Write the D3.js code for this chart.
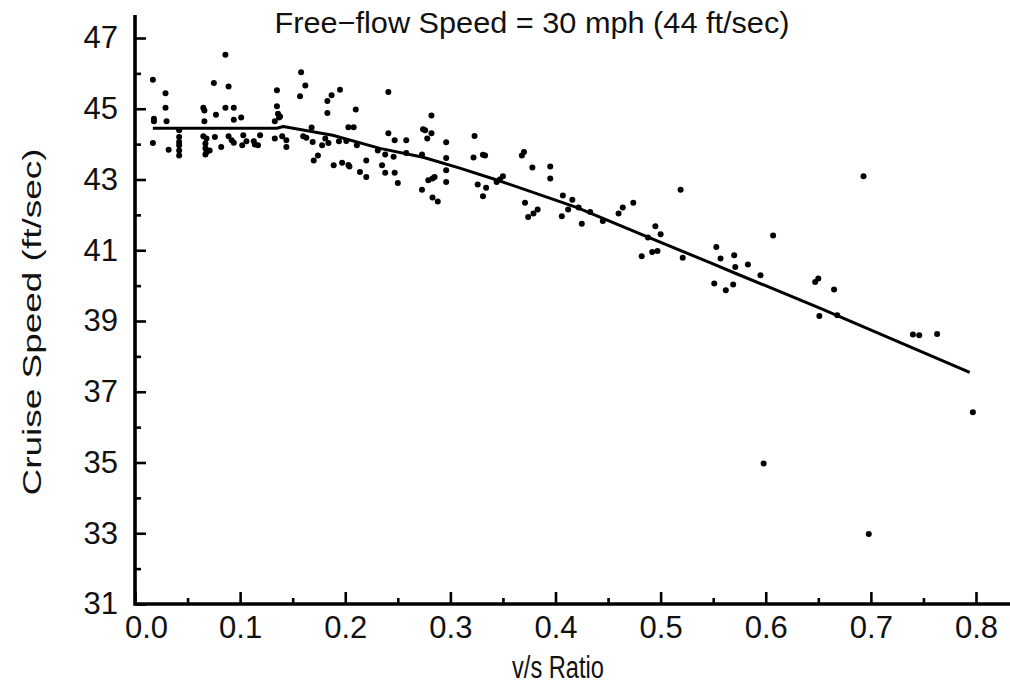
<!DOCTYPE html>
<html>
<head>
<meta charset="utf-8">
<script src="https://cdn.jsdelivr.net/npm/d3@7"></script>
<style>
  html, body { margin: 0; padding: 0; background: #fff; }
  text { font-family: "Liberation Sans", Arial, sans-serif; fill: #111; }
</style>
</head>
<body>
<svg id="chart" width="1010" height="691"></svg>
<script>
// ---- data ----
const title = "Free\u2212flow Speed = 30 mph (44 ft/sec)";
const xLabel = "v/s Ratio";
const yLabel = "Cruise Speed (ft/sec)";
const xTicks = [0, 0.1, 0.2, 0.3, 0.4, 0.5, 0.6, 0.7, 0.8];
const xMinorTicks = [0.05, 0.15, 0.25, 0.35, 0.45, 0.55, 0.65, 0.75];
const yTicks = [31, 33, 35, 37, 39, 41, 43, 45, 47];
const yMinorTicks = [32, 34, 36, 38, 40, 42, 44, 46];

// observed points: v/s ratio
const obsRatio = [
  0.017,0.029,0.029,0.018,0.018,0.030,0.017,0.032,
  0.042,0.042,0.042,0.042,0.042,0.042,
  0.065,0.066,0.066,0.065,0.068,0.067,0.067,0.068,0.067,0.071,
  0.075,0.077,0.076,0.082,0.086,0.089,0.086,0.094,0.094,0.101,0.089,0.092,0.094,0.103,0.102,
  0.158,0.162,0.157,0.135,0.135,0.136,0.138,0.137,0.133,
  0.106,0.113,0.114,0.117,0.119,0.133,0.140,0.144,0.144,0.160,0.163,0.168,0.169,
  0.183,0.187,0.195,0.183,0.181,0.184,0.178,0.194,0.201,0.174,0.170,0.189,0.197,0.203,0.203,
  0.241,0.210,0.208,0.211,0.241,0.247,0.258,0.231,0.238,0.246,0.258,0.204,0.220,0.214,0.220,
  0.235,0.238,0.247,0.250,0.282,0.274,0.276,0.282,0.278,0.296,0.273,0.296,0.296,0.279,0.283,
  0.285,0.296,0.273,0.283,0.288,
  0.323,0.322,0.331,0.333,0.326,0.334,0.331,0.344,0.347,0.350,0.368,0.370,0.378,0.395,0.395,
  0.371,0.374,0.379,0.383,0.407,0.416,0.412,0.406,0.422,
  0.433,0.425,0.445,0.464,0.460,0.474,0.519,0.495,0.500,0.488,0.482,0.492,0.497,0.521,
  0.553,0.557,0.570,0.571,0.583,0.595,0.551,0.562,0.569,0.607,0.693,
  0.647,0.650,0.665,0.651,0.668,0.740,0.746,0.763,0.797,0.598,0.698
];
// observed points: cruise speed (ft/sec)
const obsSpeed = [
  45.82,45.44,45.03,44.72,44.65,44.65,44.03,43.84,
  44.39,44.20,44.06,43.97,43.82,43.68,
  44.22,44.95,44.65,45.03,44.16,44.02,43.88,43.78,43.71,43.82,
  45.73,44.83,44.20,43.92,46.53,45.63,45.03,45.03,44.69,44.75,44.22,44.11,44.04,44.25,43.97,
  46.03,45.66,45.35,45.52,45.07,44.86,44.78,44.75,44.65,
  44.08,44.08,43.99,43.97,44.25,44.16,44.22,44.11,43.92,44.22,44.18,44.47,44.06,
  45.22,45.38,45.54,44.88,44.16,44.03,43.97,44.08,44.09,43.68,43.54,43.40,43.47,43.41,44.48,
  45.47,44.98,44.48,43.97,44.31,44.11,44.11,43.82,43.71,43.64,43.75,43.37,43.54,43.21,43.07,
  43.40,43.19,43.19,42.90,44.81,44.42,44.39,44.31,44.16,44.05,43.71,43.61,43.26,42.98,43.03,
  43.07,42.93,42.71,42.49,42.38,
  44.23,43.62,43.70,43.68,42.86,42.77,42.53,42.93,43.00,43.09,43.68,43.78,43.34,43.37,43.03,
  42.34,41.94,42.04,42.15,42.55,42.43,42.15,41.96,42.21,
  42.08,41.75,41.83,42.21,42.04,42.34,42.71,41.68,41.45,41.36,40.83,40.95,40.98,40.79,
  41.09,40.77,40.86,40.53,40.60,40.29,40.06,39.87,40.03,41.42,43.09,
  40.10,40.20,39.89,39.14,39.16,38.62,38.60,38.63,36.42,34.97,32.98
];

// fitted curve
const fitRatio = [0.017, 0.135, 0.141, 0.188, 0.233, 0.274, 0.309, 0.345, 0.420, 0.488, 0.547, 0.571, 0.652, 0.794];
const fitSpeed = [44.45, 44.45, 44.50, 44.25, 43.88, 43.63, 43.32, 42.98, 42.21, 41.37, 40.65, 40.35, 39.36, 37.55];

// ---- chart ----
const svg = d3.select("#chart");
const x = d3.scaleLinear().domain([0, 0.8]).range([135, 976]);
const y = d3.scaleLinear().domain([31, 47]).range([604, 38]);
const x0 = x(0), y0 = y(31);
const FONT = "'Liberation Sans', Arial, sans-serif";

// y axis
svg.append("g").attr("transform", `translate(${x0},0)`)
  .call(d3.axisLeft(y).tickValues(yTicks).tickSizeInner(-11).tickSizeOuter(0).tickPadding(17).tickFormat(d3.format("d")));
svg.append("g").attr("transform", `translate(${x0},0)`)
  .call(d3.axisLeft(y).tickValues(yMinorTicks).tickSizeInner(-6).tickSizeOuter(0).tickFormat(""));

// x axis
const xAxis = svg.append("g").attr("transform", `translate(0,${y0})`)
  .call(d3.axisBottom(x).tickValues(xTicks).tickSizeInner(-12).tickSizeOuter(0).tickPadding(12).tickFormat(d3.format(".1f")));
svg.append("g").attr("transform", `translate(0,${y0})`)
  .call(d3.axisBottom(x).tickValues(xMinorTicks).tickSizeInner(-6).tickSizeOuter(0).tickFormat(""));

svg.selectAll(".domain").remove();
svg.selectAll(".tick line").attr("stroke", "#000").attr("stroke-width", 2.6);
svg.selectAll(".tick text").attr("font-size", 31).attr("fill", "#111").style("font-family", FONT);
xAxis.selectAll(".tick text").filter(d => d === 0).attr("dx", 11);

// fitted line
svg.append("path")
  .datum(fitRatio.map((r, i) => [r, fitSpeed[i]]))
  .attr("fill", "none").attr("stroke", "#000").attr("stroke-width", 3)
  .attr("stroke-linejoin", "round")
  .attr("d", d3.line().x(d => x(d[0])).y(d => y(d[1])));

// points
svg.append("g").selectAll("circle")
  .data(obsRatio.map((r, i) => [r, obsSpeed[i]]))
  .join("circle")
  .attr("cx", d => x(d[0])).attr("cy", d => y(d[1])).attr("r", 3)
  .attr("fill", "#000");

// axis lines (drawn last)
svg.append("path").attr("d", `M${x0},15V${y0}H1010`)
  .attr("fill", "none").attr("stroke", "#000").attr("stroke-width", 3.6);

// titles
svg.append("text").attr("x", 532).attr("y", 33).attr("text-anchor", "middle")
  .attr("font-size", 30).attr("textLength", 515).attr("lengthAdjust", "spacingAndGlyphs").text(title);
svg.append("text").attr("x", 558).attr("y", 678).attr("text-anchor", "middle")
  .attr("font-size", 31).attr("textLength", 92).attr("lengthAdjust", "spacingAndGlyphs").text(xLabel);
svg.append("text").attr("transform", "translate(41,322) rotate(-90)").attr("text-anchor", "middle")
  .attr("font-size", 26).attr("textLength", 347).attr("lengthAdjust", "spacingAndGlyphs").text(yLabel);
</script>
</body>
</html>
